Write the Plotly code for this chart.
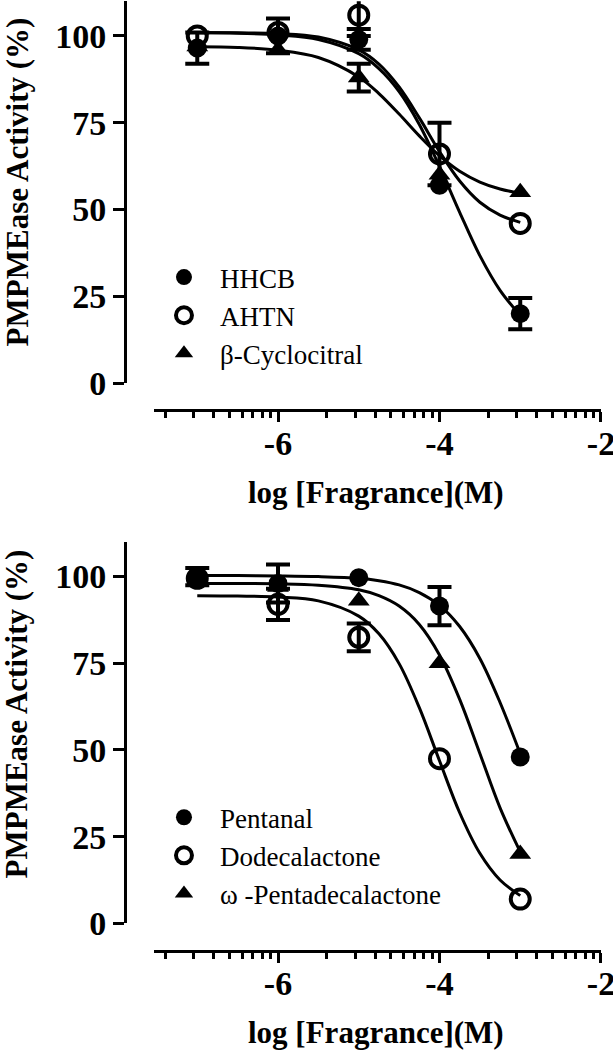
import numpy as np
import plotly.graph_objects as go

# measured concentrations, log [M]
log_conc = [-7, -6, -5, -4, -3]

# top panel: musks / cyclocitral (mean, error; None = bar hidden behind marker)
hhcb = [96.5, 100, 99, 57, 20]
hhcb_err = [4.5, 5, 3, None, 4.5]
ahtn = [100, 101, 106, 66, 46]
ahtn_err = [None, None, 6, 9, None]
cyclocitral = [97, 96, 88, 60, 55]
cyclocitral_err = [None, None, 4, None, None]

# bottom panel: aldehyde / lactones
pentanal = [100, 98, 99.7, 91.5, 48]
pentanal_err = [2.5, 5.5, None, 5.5, None]
dodecalactone = [99.5, 92, 82.5, 47.5, 7]
dodecalactone_err = [None, 4.5, 4, None, None]
pentadecalactone = [99, 97, 93, 75, 20]
pentadecalactone_err = [None, None, None, None, None]

# fitted curves
curve_x = [-7, -6.5, -6, -5.5, -5, -4.75, -4.5, -4.25, -4, -3.75, -3.5, -3.25, -3]
hhcb_fit = [100.9, 100.8, 100.3, 99.0, 94.9, 90.6, 84.0, 74.5, 62.4, 49.2, 36.7, 26.7, 19.5]
ahtn_fit = [101.0, 100.9, 100.7, 99.7, 96.0, 91.9, 85.3, 76.4, 66.7, 58.2, 52.1, 48.4, 46.3]
cyclocitral_fit = [96.9, 96.7, 95.9, 93.8, 88.2, 83.4, 77.5, 71.2, 65.5, 61.0, 57.9, 55.9, 54.7]
pentanal_fit = [100.3, 100.3, 100.2, 100.0, 99.5, 98.8, 97.6, 95.4, 91.7, 85.6, 76.4, 63.7, 48.9]
dodecalactone_fit = [94.5, 94.4, 94.1, 93.0, 88.6, 83.5, 74.9, 62.2, 46.9, 31.9, 20.2, 12.5, 8.0]
pentadecalactone_fit = [98.0, 98.0, 97.9, 97.5, 96.2, 94.5, 91.5, 86.2, 77.4, 64.6, 49.0, 33.3, 20.6]

x_ticks = [-6, -4, -2]
x_ticktext = ["-6", "-4", "-2"]
y_ticks = [0, 25, 50, 75, 100]

# Prism-style minor ticks: log spacing inside each 2-decade major interval
minor_x = [s + 2 * np.log10(k) for s in (-8, -6, -4) for k in range(2, 10)]
minor_x = [v for v in minor_x if v > -7.53]

SERIF = "Liberation Serif"
TICK_FONT = dict(family=SERIF, size=34, color="black", weight="bold")

fig = go.Figure()


def add_panel(fig, xa, ya, legend, series):
    for name, y, err, fit, symbol in series:
        fig.add_trace(go.Scatter(
            x=curve_x, y=fit, mode="lines", xaxis=xa, yaxis=ya,
            line=dict(color="black", width=3, shape="spline", smoothing=1.0),
            showlegend=False, hoverinfo="skip",
        ))
        # error bars only where they show past the marker
        keep = [i for i, e in enumerate(err) if e is not None]
        if keep:
            fig.add_trace(go.Scatter(
                x=[log_conc[i] for i in keep], y=[y[i] for i in keep],
                mode="markers", xaxis=xa, yaxis=ya, showlegend=False,
                hoverinfo="skip", marker=dict(size=1, opacity=0), cliponaxis=False,
                error_y=dict(type="data", array=[err[i] for i in keep], visible=True,
                             color="black", thickness=4, width=12),
            ))
    for name, y, err, fit, symbol in series:
        fig.add_trace(go.Scatter(
            x=log_conc, y=y, name=name, mode="markers", xaxis=xa, yaxis=ya,
            legend=legend,
            marker=dict(symbol=symbol, size=19, color="black",
                        line=dict(color="black", width=4 if "open" in symbol else 0)),
        ))


add_panel(fig, "x", "y", "legend", [
    ("HHCB", hhcb, hhcb_err, hhcb_fit, "circle"),
    ("AHTN", ahtn, ahtn_err, ahtn_fit, "circle-open"),
    ("\u03b2-Cyclocitral", cyclocitral, cyclocitral_err, cyclocitral_fit, "triangle-up"),
])
add_panel(fig, "x2", "y2", "legend2", [
    ("Pentanal", pentanal, pentanal_err, pentanal_fit, "circle"),
    ("Dodecalactone", dodecalactone, dodecalactone_err, dodecalactone_fit, "circle-open"),
    ("\u03c9 -Pentadecalactone", pentadecalactone, pentadecalactone_err,
     pentadecalactone_fit, "triangle-up"),
])


def x_axis(position):
    return dict(
        domain=[0.2512, 0.9804], range=[-7.536, -2], anchor="free", position=position,
        showline=True, linewidth=3, linecolor="black", showgrid=False, zeroline=False,
        ticks="outside", ticklen=10, tickwidth=3, tickcolor="black",
        tickmode="array", tickvals=x_ticks, ticktext=x_ticktext, tickfont=TICK_FONT,
        ticklabeloverflow="allow", ticklabelstandoff=-8,
        minor=dict(tickmode="array", tickvals=minor_x, ticks="outside",
                   ticklen=6, tickwidth=2.5, tickcolor="black", showgrid=False),
        automargin=False,
    )


def y_axis(domain):
    return dict(
        domain=domain, range=[0, 110], anchor="free", position=0.2039,
        showline=True, linewidth=3, linecolor="black", showgrid=False, zeroline=False,
        ticks="outside", ticklen=11, tickwidth=3, tickcolor="black",
        tickmode="array", tickvals=y_ticks, tickfont=TICK_FONT,
        ticklabeloverflow="allow", automargin=False,
    )


legend_style = dict(
    font=dict(family=SERIF, size=27, color="black"),
    bgcolor="rgba(0,0,0,0)", borderwidth=0, itemwidth=62,
    xref="paper", yref="paper", xanchor="left", yanchor="top",
    tracegroupgap=0, itemsizing="trace",
)

fig.update_layout(
    width=613, height=1050,
    margin=dict(l=0, r=0, t=0, b=0),
    paper_bgcolor="white", plot_bgcolor="white",
    xaxis=x_axis(0.6095), yaxis=y_axis([0.6352, 0.9988]),
    xaxis2=x_axis(0.0946), yaxis2=y_axis([0.1206, 0.4839]),
    legend=dict(legend_style, x=0.2414, y=0.759),
    legend2=dict(legend_style, x=0.2414, y=0.2446),
)

title_font = dict(family=SERIF, size=31, color="black", weight="bold")
for ty, xy in [(0.8267, 0.5314), (0.32, 0.0162)]:
    fig.add_annotation(text="PMPMEase Activity (%)", textangle=-90, x=0.0285, y=ty,
                       xanchor="center", yanchor="middle",
                       xref="paper", yref="paper", showarrow=False, font=title_font)
    fig.add_annotation(text="log [Fragrance](M)", x=0.6134, y=xy,
                       xanchor="center", yanchor="middle",
                       xref="paper", yref="paper", showarrow=False, font=title_font)

fig.write_html("out.html", config={"displayModeBar": False},
               post_script="document.body.style.margin='0px';")
